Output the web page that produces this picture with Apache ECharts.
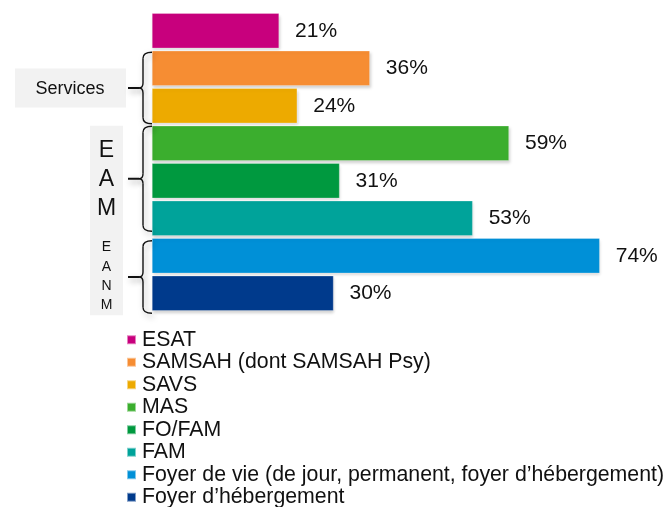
<!DOCTYPE html>
<html>
<head>
<meta charset="utf-8">
<script src="https://cdn.jsdelivr.net/npm/echarts@6/dist/echarts.min.js"></script>
<style>
  html, body { margin: 0; padding: 0; background: #fff; }
  #chart { width: 668px; height: 507px; }
</style>
</head>
<body>
<div id="chart"></div>
<script>
// Structures and their shares (%)
const categories = [
  'ESAT',
  'SAMSAH (dont SAMSAH Psy)',
  'SAVS',
  'MAS',
  'FO/FAM',
  'FAM',
  'Foyer de vie (de jour, permanent, foyer d\u2019hébergement)',
  'Foyer d\u2019hébergement'
];
const values = [21, 36, 24, 59, 31, 53, 74, 30];
const colors = ['#c8007d', '#f68d33', '#edaa00', '#3bae2e', '#00993f', '#00a39a', '#0090d7', '#003a8c'];

// Groupings drawn as braces on the left: [label, first index, last index]
const groups = [
  ['Services', 1, 2],
  ['EAM', 3, 5],
  ['EANM', 6, 7]
];

const FONT = '"Liberation Sans", Arial, sans-serif';
const chart = echarts.init(document.getElementById('chart'));

// One series per structure so the legend lists every bar
const series = categories.map((name, i) => ({
  name,
  type: 'bar',
  stack: 'all',
  barWidth: 35,
  itemStyle: {
    color: colors[i],
    borderColor: 'rgba(255,255,255,0.5)',
    borderWidth: 0.5,
    shadowColor: 'rgba(0,0,0,0.18)',
    shadowBlur: 3,
    shadowOffsetX: 1,
    shadowOffsetY: 2
  },
  label: {
    show: true,
    position: 'right',
    distance: 16,
    formatter: p => p.value + '%',
    fontFamily: FONT,
    fontSize: 21,
    color: '#111'
  },
  data: categories.map((c, j) => (j === i ? values[i] : '-'))
}));

chart.setOption({
  animation: false,
  textStyle: { fontFamily: FONT },
  grid: { left: 152, top: 12, width: 484, height: 300, containLabel: false },
  xAxis: { type: 'value', min: 0, max: 80, show: false },
  yAxis: {
    type: 'category',
    data: categories,
    inverse: true,
    show: false
  },
  legend: {
    orient: 'vertical',
    left: 126,
    top: 328.5,
    height: 220,
    icon: 'rect',
    itemWidth: 9,
    itemHeight: 9,
    itemGap: 0,
    padding: 0,
    selectedMode: false,
    textStyle: { fontFamily: FONT, fontSize: 21.3, color: '#111', lineHeight: 22.5, padding: [0, 0, 0, 1] },
    data: categories
  },
  series
});

// Braces, grey tags and group names, placed from the category axis
const x0 = 152;
const elements = [];
const shadow = { shadowColor: 'rgba(0,0,0,0.4)', shadowBlur: 6, shadowOffsetX: 2, shadowOffsetY: 3 };
const stroke = { fill: null, stroke: '#111', lineWidth: 1.4 };

function seg(type, shape) {
  elements.push({ type, shape, style: Object.assign({}, stroke, shadow), z: 10 });
}

function brace(y1, y2) {
  const xm = x0 - 9, xp = x0 - 13, ym = (y1 + y2) / 2;
  seg('bezierCurve', { x1: x0, y1: y1, cpx1: xm, cpy1: y1, x2: xm, y2: y1 + 6 });
  seg('line', { x1: xm, y1: y1 + 6, x2: xm, y2: ym - 5 });
  seg('bezierCurve', { x1: xm, y1: ym - 5, cpx1: xm, cpy1: ym, x2: xp, y2: ym });
  seg('bezierCurve', { x1: xp, y1: ym, cpx1: xm, cpy1: ym, x2: xm, y2: ym + 5 });
  seg('line', { x1: xm, y1: ym + 5, x2: xm, y2: y2 - 6 });
  seg('bezierCurve', { x1: xm, y1: y2 - 6, cpx1: xm, cpy1: y2, x2: x0, y2: y2 });
  elements.push({
    type: 'line',
    shape: { x1: 128, y1: ym, x2: xp, y2: ym },
    style: Object.assign({ stroke: '#111', lineWidth: 2 }, shadow),
    z: 10
  });
}

// per-group offsets of the brace ends and tag box from the bar band edges
const braceOffsets = [[-16, 18], [-17, 13], [-15, 20]];
const tagOffsets = [null, [-17.5, 14], [-26, 22]];
const letterShift = [0, 1, 4];

groups.forEach(([label, a, b], gi) => {
  const ya = chart.convertToPixel({ yAxisIndex: 0 }, a);
  const yb = chart.convertToPixel({ yAxisIndex: 0 }, b);
  const y1 = ya + braceOffsets[gi][0];
  const y2 = yb + braceOffsets[gi][1];
  const ym = (y1 + y2) / 2;
  brace(y1, y2);
  if (gi === 0) {
    elements.push({
      type: 'rect',
      shape: { x: 15, y: ym - 19.5, width: 111, height: 39 },
      style: { fill: '#f2f2f2' },
      z: 5
    });
    elements.push({
      type: 'text',
      x: 70, y: ym + 1,
      style: { text: label, font: '18px ' + FONT, fill: '#111', align: 'center', verticalAlign: 'middle' },
      z: 6
    });
  } else {
    const big = gi === 1;
    const top = ya + tagOffsets[gi][0];
    const bottom = yb + tagOffsets[gi][1];
    elements.push({
      type: 'rect',
      shape: { x: 90, y: top, width: 33, height: bottom - top },
      style: { fill: '#f2f2f2' },
      z: 5
    });
    elements.push({
      type: 'text',
      x: 106.5, y: (top + bottom) / 2 + letterShift[gi],
      style: {
        text: label.split('').join('\n'),
        font: (big ? '23px ' : '14px ') + FONT,
        lineHeight: big ? 29 : 19.3,
        fill: '#111', align: 'center', verticalAlign: 'middle'
      },
      z: 6
    });
  }
});
chart.setOption({ graphic: { elements } });
</script>
</body>
</html>
